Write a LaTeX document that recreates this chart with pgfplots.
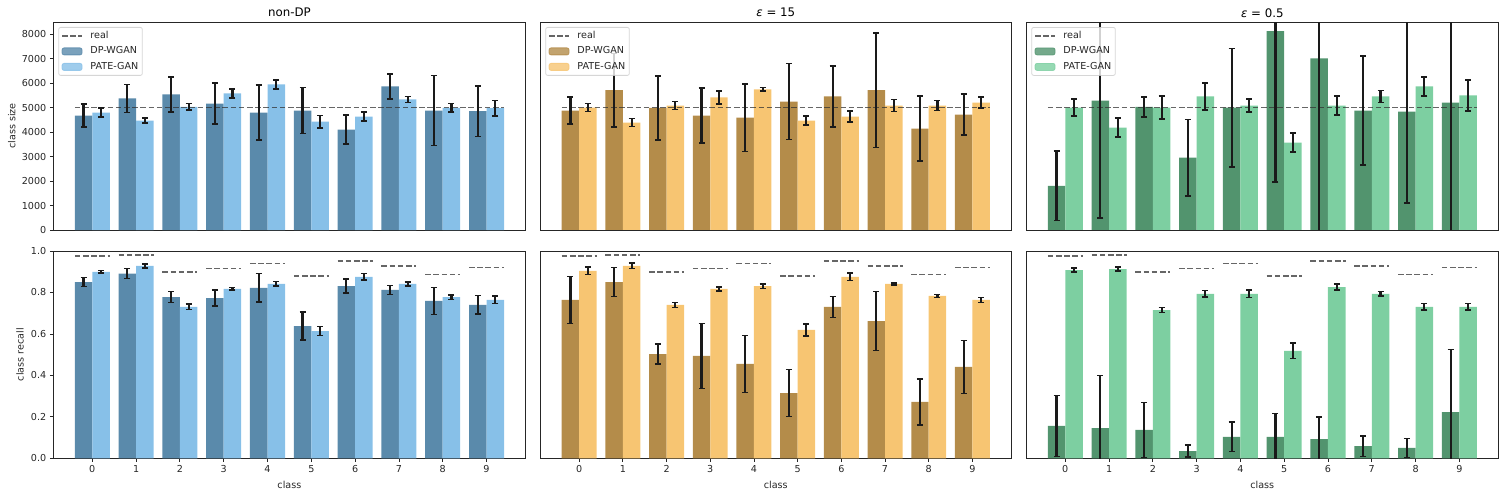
\documentclass[border=0pt]{standalone}
\usepackage{fontspec}
\setmainfont{DejaVu Sans}
\usepackage{pgfplots}
\pgfplotsset{compat=1.18}
\usepackage{pgfplotstable}

\definecolor{nda}{HTML}{5A8AAB}
\definecolor{ndb}{HTML}{87C0E8}
\definecolor{fia}{HTML}{B48C4A}
\definecolor{fib}{HTML}{F7C572}
\definecolor{hfa}{HTML}{52946E}
\definecolor{hfb}{HTML}{7DCFA1}
\definecolor{axc}{HTML}{262626}
\definecolor{realc}{HTML}{333333}
\definecolor{errc}{HTML}{1A1A1A}

% class sizes
\pgfplotstableread{
c dp dpe pg pge
0 4677 465 4800 185
1 5374 567 4472 103
2 5538 711 5032 130
3 5169 834 5579 185
4 4800 1128 5949 191
5 4882 943 4431 253
6 4103 588 4636 185
7 5867 506 5333 123
8 4882 1436 4991 171
9 4855 1040 4978 315
}\sizeND
\pgfplotstableread{
c dp dpe pg pge
0 4882 561 5005 157
1 5716 1500 4390 164
2 4992 1313 5087 164
3 4677 1128 5415 267
4 4595 1381 5744 75
5 5251 1559 4472 191
6 5456 1245 4636 219
7 5716 2338 5087 246
8 4144 1333 5087 205
9 4718 834 5210 226
}\sizeFI
\pgfplotstableread{
c dp dpe pg pge
0 1805 1422 5005 349
1 5292 4813 4185 390
2 5032 403 5005 465
3 2954 1559 5456 547
4 5005 2420 5087 267
5 8123 6168 3569 383
6 7015 7500 5087 383
7 4882 2222 5456 246
8 4841 3747 5867 390
9 5210 5800 5497 636
}\sizeHF
% class recall
\pgfplotstableread{
c dp dpe pg pge
0 0.850 0.022 0.899 0.006
1 0.891 0.024 0.928 0.009
2 0.778 0.026 0.730 0.013
3 0.773 0.038 0.817 0.006
4 0.822 0.069 0.841 0.011
5 0.638 0.068 0.614 0.021
6 0.831 0.035 0.875 0.016
7 0.812 0.022 0.841 0.009
8 0.759 0.065 0.778 0.011
9 0.740 0.045 0.764 0.018
}\recND
\pgfplotstableread{
c dp dpe pg pge
0 0.764 0.113 0.904 0.018
1 0.850 0.070 0.928 0.013
2 0.503 0.049 0.740 0.012
3 0.494 0.157 0.817 0.010
4 0.455 0.137 0.831 0.011
5 0.315 0.113 0.619 0.028
6 0.730 0.050 0.875 0.018
7 0.662 0.142 0.841 0.006
8 0.272 0.111 0.783 0.008
9 0.441 0.128 0.764 0.012
}\recFI
\pgfplotstableread{
c dp dpe pg pge
0 0.156 0.147 0.908 0.009
1 0.146 0.254 0.913 0.010
2 0.137 0.133 0.715 0.012
3 0.035 0.029 0.793 0.016
4 0.103 0.071 0.793 0.018
5 0.103 0.114 0.518 0.037
6 0.093 0.105 0.826 0.014
7 0.059 0.050 0.793 0.011
8 0.050 0.046 0.730 0.016
9 0.223 0.302 0.730 0.016
}\recHF

\newcommand{\realrecall}{%
\addplot[realline, unbounded coords=jump, forget plot] coordinates {
(-0.4,0.977) (0.4,0.977) (0.5,nan)
(0.6,0.982) (1.4,0.982) (1.5,nan)
(1.6,0.899) (2.4,0.899) (2.5,nan)
(2.6,0.915) (3.4,0.915) (3.5,nan)
(3.6,0.939) (4.4,0.939) (4.5,nan)
(4.6,0.881) (5.4,0.881) (5.5,nan)
(5.6,0.953) (6.4,0.953) (6.5,nan)
(6.6,0.929) (7.4,0.929) (7.5,nan)
(7.6,0.886) (8.4,0.886) (8.5,nan)
(8.6,0.920) (9.4,0.920)
};}

% bars, then the real line, then the error bars on top
\newcommand{\panel}[4]{%
\addplot[barplot=#2, forget plot] table[x expr=\thisrow{c}-0.2, y=dp] {#1};
\addplot[barplot=#3, forget plot] table[x expr=\thisrow{c}+0.2, y=pg] {#1};
#4
\addplot[errplot] table[x expr=\thisrow{c}-0.2, y=dp, y error=dpe] {#1};
\addplot[errplot] table[x expr=\thisrow{c}+0.2, y=pg, y error=pge] {#1};
}

\pgfplotsset{
  base/.style={
    scale only axis, anchor=south west,
    xmin=-0.89, xmax=9.89,
    axis line style={axc, line width=0.8pt},
    tick style={axc, line width=0.8pt},
    tick align=outside, major tick length=3.5pt,
    xtick pos=bottom, ytick pos=left,
    ticklabel style={font=\fontsize{9.6}{11}\selectfont, text=axc},
    label style={font=\fontsize{9.6}{11}\selectfont, text=axc},
    every axis title/.style={at={(0.5,1)}, anchor=base, yshift=5pt,
      font=\fontsize{11.8}{14}\selectfont, text=black},
    /pgf/number format/assume math mode=true,
    scaled y ticks=false,
    clip=true,
    legend style={at={(axis description cs:0,1)}, anchor=north west,
      xshift=5pt, yshift=-5pt,
      draw=black!20, line width=0.8pt, fill=white, fill opacity=0.8,
      draw opacity=0.8, text opacity=1, rounded corners=2pt,
      font=\fontsize{9.6}{11}\selectfont, text=axc,
      inner xsep=2.5pt, inner ysep=2.5pt, row sep=3.5pt, column sep=6pt,
      nodes={inner sep=1.5pt, text height=7pt, text depth=2pt}},
    legend cell align=left,
  },
  toprow/.style={base, height=208pt, ymin=0, ymax=8500, xtick=\empty,
    ytick={0,1000,...,8000},
    yticklabel style={/pgf/number format/1000 sep={}}},
  botrow/.style={base, height=207.3pt, ymin=0, ymax=1, xtick={0,...,9},
    xlabel={class},
    xlabel style={at={(axis description cs:0.5,-0.129)}, anchor=center},
    ytick={0,0.2,...,1.0},
    yticklabel style={/pgf/number format/.cd, fixed, fixed zerofill, precision=1}},
  barplot/.style={ybar, bar width=0.4, bar shift=0pt, fill=#1, draw=none},
  errplot/.style={draw=none, mark=none, forget plot, line width=2.1pt,
    error bars/y dir=both, error bars/y explicit,
    error bars/error bar style={draw=errc, line width=2.1pt, solid},
    error bars/error mark options={draw=errc, rotate=90, mark size=3pt, line width=1.6pt, solid}},
  realline/.style={draw=realc, draw opacity=0.75, line width=1.7pt, dash pattern=on 5.6pt off 2.6pt, mark=none},
  realleg/.style={legend image code/.code={\draw[realc, draw opacity=0.75, line width=1.7pt, dash pattern=on 5.6pt off 2.6pt] (0pt,0pt) -- (20pt,0pt);}},
  barleg/.style={legend image code/.code={\fill[#1] (0pt,-3.5pt) rectangle (20pt,3.5pt);}},
}

\newcommand{\legendfor}[2]{%
\addlegendimage{realleg}\addlegendentry{real}
\addlegendimage{barleg=#1}\addlegendentry{DP-WGAN}
\addlegendimage{barleg=#2}\addlegendentry{PATE-GAN}
}
\newcommand{\realsize}{\addplot[realline, forget plot] coordinates {(-0.4,5000) (9.4,5000)};}

\begin{document}
\begin{tikzpicture}
\useasboundingbox (0,0) rectangle (1504pt,496pt);

% ---------- top row ----------
\begin{axis}[toprow, at={(53.3pt,266pt)}, width=472.2pt, title={non-DP},
  ylabel={class size},
  ylabel style={at={(axis description cs:-0.088,0.5)}, rotate=0, anchor=center}]
\legendfor{nda}{ndb}
\panel{\sizeND}{nda}{ndb}{\realsize}
\end{axis}

\begin{axis}[toprow, at={(540.3pt,266pt)}, width=471pt, ytick=\empty,
  title={{\itshape ε} = 15}]
\legendfor{fia}{fib}
\panel{\sizeFI}{fia}{fib}{\realsize}
\end{axis}

\begin{axis}[toprow, at={(1026.3pt,266pt)}, width=472pt, ytick=\empty,
  title={{\itshape ε} = 0.5}]
\legendfor{hfa}{hfb}
\panel{\sizeHF}{hfa}{hfb}{\realsize}
\end{axis}

% ---------- bottom row ----------
\begin{axis}[botrow, at={(53.3pt,37.7pt)}, width=472.2pt,
  ylabel={class recall},
  ylabel style={at={(axis description cs:-0.0706,0.5)}, rotate=0, anchor=center}]
\panel{\recND}{nda}{ndb}{\realrecall}
\end{axis}

\begin{axis}[botrow, at={(540.3pt,37.7pt)}, width=471pt, ytick=\empty]
\panel{\recFI}{fia}{fib}{\realrecall}
\end{axis}

\begin{axis}[botrow, at={(1026.3pt,37.7pt)}, width=472pt, ytick=\empty]
\panel{\recHF}{hfa}{hfb}{\realrecall}
\end{axis}
\end{tikzpicture}
\end{document}
